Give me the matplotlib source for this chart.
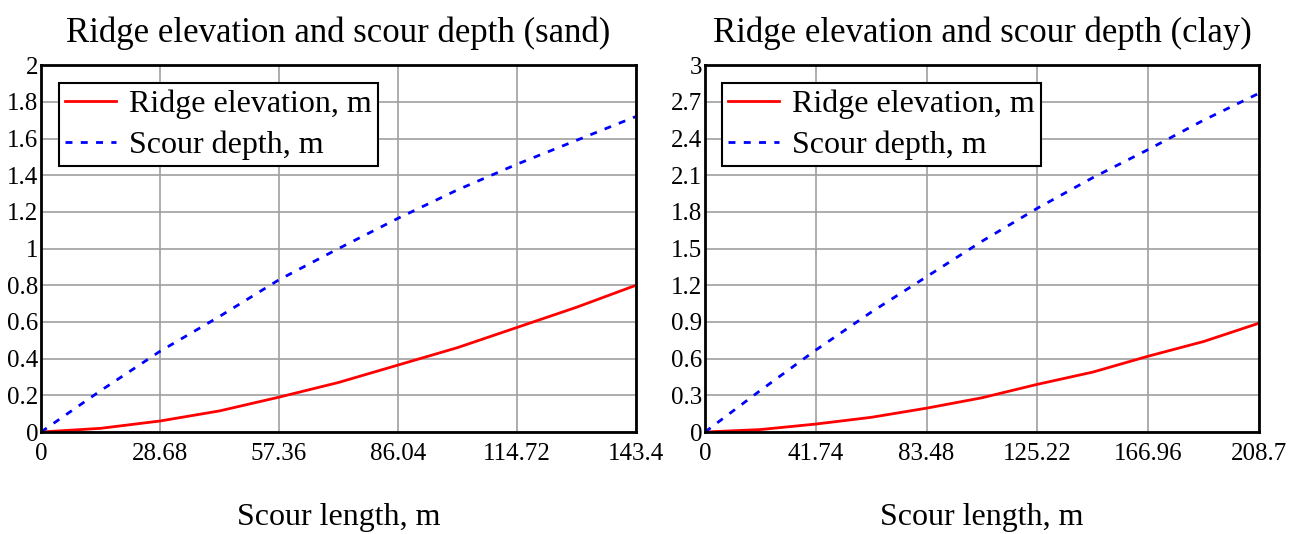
import matplotlib.pyplot as plt
import numpy as np

plt.rcParams['font.family'] = ['Liberation Serif', 'DejaVu Serif']

# sand panel
sand_x = [0, 14.34, 28.68, 43.02, 57.36, 71.70, 86.04, 100.38, 114.72, 129.06, 143.4]
sand_ridge = [0.0, 0.02, 0.06, 0.115, 0.19, 0.27, 0.365, 0.46, 0.57, 0.68, 0.80]
sand_scour = [0.0, 0.225, 0.44, 0.63, 0.83, 1.00, 1.165, 1.32, 1.46, 1.59, 1.72]
sand_xticks = [0, 28.68, 57.36, 86.04, 114.72, 143.4]
sand_xlabels = ['0', '28.68', '57.36', '86.04', '114.72', '143.4']
sand_yticks = [0, 0.2, 0.4, 0.6, 0.8, 1, 1.2, 1.4, 1.6, 1.8, 2]
sand_ylabels = ['0', '0.2', '0.4', '0.6', '0.8', '1', '1.2', '1.4', '1.6', '1.8', '2']

# clay panel
clay_x = [0, 20.87, 41.74, 62.61, 83.48, 104.35, 125.22, 146.09, 166.96, 187.83, 208.7]
clay_ridge = [0.0, 0.02, 0.065, 0.12, 0.195, 0.28, 0.39, 0.49, 0.62, 0.74, 0.89]
clay_scour = [0.0, 0.34, 0.67, 0.98, 1.27, 1.56, 1.83, 2.08, 2.31, 2.55, 2.77]
clay_xticks = [0, 41.74, 83.48, 125.22, 166.96, 208.7]
clay_xlabels = ['0', '41.74', '83.48', '125.22', '166.96', '208.7']
clay_yticks = [0, 0.3, 0.6, 0.9, 1.2, 1.5, 1.8, 2.1, 2.4, 2.7, 3]
clay_ylabels = ['0', '0.3', '0.6', '0.9', '1.2', '1.5', '1.8', '2.1', '2.4', '2.7', '3']

fig = plt.figure(figsize=(13.07, 5.34), dpi=100)
ax1 = fig.add_axes([0.0314, 0.191, 0.4552, 0.687])
ax2 = fig.add_axes([0.5394, 0.191, 0.4239, 0.687])


def draw(ax, x, ridge, scour, xt, xl, yt, yl, title):
    ax.plot(x, ridge, color='#ff0000', lw=2, label='Ridge elevation, m')
    ax.plot(x, scour, color='#0000ff', lw=2, linestyle=(0, (2.5, 3)), label='Scour depth, m')
    ax.set_xlim(xt[0], xt[-1])
    ax.set_ylim(yt[0], yt[-1])
    ax.set_xticks(xt)
    ax.set_xticklabels(xl)
    ax.set_yticks(yt)
    ax.set_yticklabels(yl)
    ax.tick_params(length=0, labelsize=18)
    ax.tick_params(axis='x', pad=8)
    ax.tick_params(axis='y', pad=2)
    ax.grid(True, color='#a0a0a0', lw=1.2)
    ax.set_axisbelow(True)
    for s in ax.spines.values():
        s.set_linewidth(2)
        s.set_color('black')
    ax.set_title(title, fontsize=25, pad=17)
    ax.set_xlabel('Scour length, m', fontsize=23, labelpad=27)
    leg = ax.legend(loc='upper left', bbox_to_anchor=(0.03, 0.95), fontsize=23,
                    fancybox=False, framealpha=1, edgecolor='black',
                    handlelength=1.6, borderpad=0.2, labelspacing=0.35,
                    handletextpad=0.4, borderaxespad=0)
    leg.get_frame().set_linewidth(1.5)


draw(ax1, sand_x, sand_ridge, sand_scour, sand_xticks, sand_xlabels,
     sand_yticks, sand_ylabels, 'Ridge elevation and scour depth (sand)')
draw(ax2, clay_x, clay_ridge, clay_scour, clay_xticks, clay_xlabels,
     clay_yticks, clay_ylabels, 'Ridge elevation and scour depth (clay)')

fig.savefig('out.png', dpi=100)
